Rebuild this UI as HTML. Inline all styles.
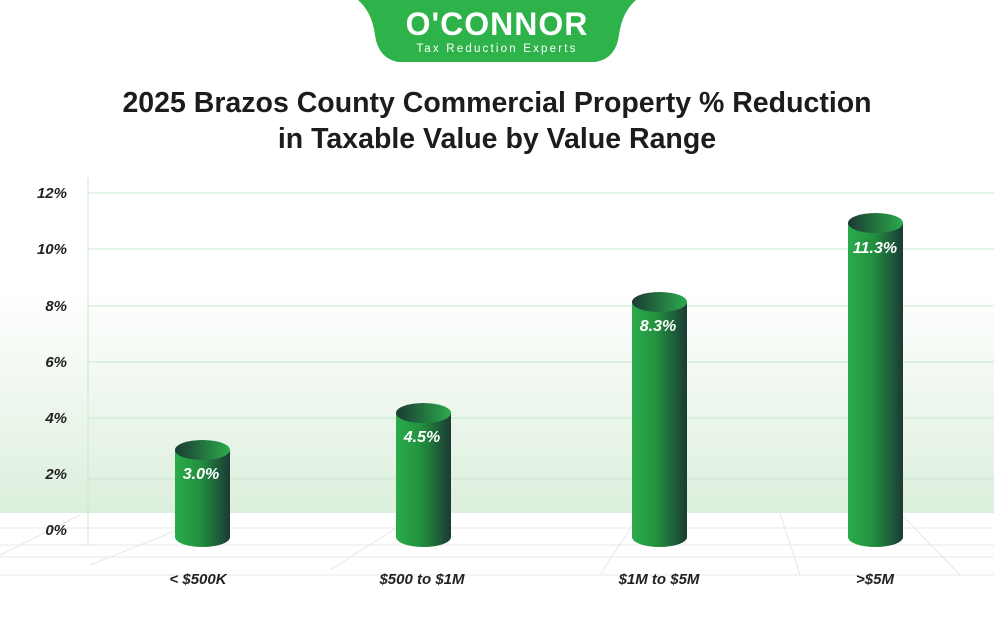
<!DOCTYPE html>
<html><head><meta charset="utf-8"><style>
html,body{margin:0;padding:0;background:#fff;}
body{width:994px;height:612px;overflow:hidden;font-family:"Liberation Sans",Arial,sans-serif;}
</style></head><body>
<svg width="994" height="612" viewBox="0 0 994 612" xmlns="http://www.w3.org/2000/svg">
<defs>
<linearGradient id="bg" x1="0" y1="0" x2="0" y2="1">
<stop offset="0" stop-color="#ffffff"/>
<stop offset="1" stop-color="#dcefdc"/>
</linearGradient>
<linearGradient id="body" x1="0" y1="0" x2="1" y2="0">
<stop offset="0" stop-color="#2bab4b"/>
<stop offset="0.45" stop-color="#22913f"/>
<stop offset="1" stop-color="#1b3a34"/>
</linearGradient>
<linearGradient id="top" x1="0" y1="0" x2="1" y2="0">
<stop offset="0" stop-color="#1b3a34"/>
<stop offset="1" stop-color="#2bab4b"/>
</linearGradient>
</defs>
<rect x="0" y="290" width="994" height="223" fill="url(#bg)"/>
<g stroke="#e8e8e8" stroke-width="1" fill="none">
<line x1="0" y1="545" x2="994" y2="545"/>
<line x1="0" y1="557" x2="994" y2="557"/>
<line x1="0" y1="575" x2="994" y2="575"/>
<line x1="0" y1="528" x2="994" y2="528"/>
<line x1="0" y1="555" x2="80" y2="515"/>
<line x1="90" y1="565" x2="220" y2="513"/>
<line x1="330" y1="570" x2="420" y2="513"/>
<line x1="600" y1="575" x2="640" y2="513"/>
<line x1="800" y1="575" x2="780" y2="513"/>
<line x1="960" y1="575" x2="900" y2="513"/>
</g>
<g stroke="#c9e8cf" stroke-width="1">
<line x1="88" y1="193" x2="994" y2="193"/>
<line x1="88" y1="249" x2="994" y2="249"/>
<line x1="88" y1="306" x2="994" y2="306"/>
<line x1="88" y1="362" x2="994" y2="362"/>
<line x1="88" y1="418" x2="994" y2="418"/>
<line x1="88" y1="479" x2="994" y2="479"/>
</g>
<line x1="88" y1="178" x2="88" y2="546" stroke="#c9e8cf" stroke-width="1"/>
<g font-size="15" font-weight="bold" font-style="italic" fill="#222" text-anchor="end">
<text x="67" y="198">12%</text>
<text x="67" y="254">10%</text>
<text x="67" y="311">8%</text>
<text x="67" y="367">6%</text>
<text x="67" y="423">4%</text>
<text x="67" y="479">2%</text>
<text x="67" y="535">0%</text>
</g>
<g>
<rect x="175" y="450" width="55" height="87" fill="url(#body)"/>
<ellipse cx="202.5" cy="537" rx="27.5" ry="10" fill="url(#body)"/>
<ellipse cx="202.5" cy="450" rx="27.5" ry="10" fill="url(#top)"/>
<rect x="396" y="413" width="55" height="124" fill="url(#body)"/>
<ellipse cx="423.5" cy="537" rx="27.5" ry="10" fill="url(#body)"/>
<ellipse cx="423.5" cy="413" rx="27.5" ry="10" fill="url(#top)"/>
<rect x="632" y="302" width="55" height="235" fill="url(#body)"/>
<ellipse cx="659.5" cy="537" rx="27.5" ry="10" fill="url(#body)"/>
<ellipse cx="659.5" cy="302" rx="27.5" ry="10" fill="url(#top)"/>
<rect x="848" y="223" width="55" height="314" fill="url(#body)"/>
<ellipse cx="875.5" cy="537" rx="27.5" ry="10" fill="url(#body)"/>
<ellipse cx="875.5" cy="223" rx="27.5" ry="10" fill="url(#top)"/>
</g>
<g font-size="16" font-weight="bold" font-style="italic" fill="#fff" text-anchor="middle">
<text x="201" y="479">3.0%</text>
<text x="422" y="442">4.5%</text>
<text x="658" y="331">8.3%</text>
<text x="875" y="253">11.3%</text>
</g>
<g font-size="15" font-weight="bold" font-style="italic" fill="#222" text-anchor="middle">
<text x="198" y="584">&lt; $500K</text>
<text x="422" y="584">$500 to $1M</text>
<text x="659" y="584">$1M to $5M</text>
<text x="875" y="584">&gt;$5M</text>
</g>
<g font-size="28.5" font-weight="bold" fill="#1c1c1c" text-anchor="middle">
<text x="497" y="112">2025 Brazos County Commercial Property % Reduction</text>
<text x="497" y="148">in Taxable Value by Value Range</text>
</g>
<path d="M358 0 L636 0 Q622 12 619 35 Q616 58 596 62 L398 62 Q378 58 375 35 Q372 12 358 0 Z" fill="#2db34a"/>
<text x="497" y="35" font-size="32" font-weight="bold" fill="#fff" text-anchor="middle" letter-spacing="1">O'CONNOR</text>
<text x="497" y="52" font-size="11.5" fill="#fff" text-anchor="middle" letter-spacing="2.2">Tax Reduction Experts</text>
</svg>
</body></html>
